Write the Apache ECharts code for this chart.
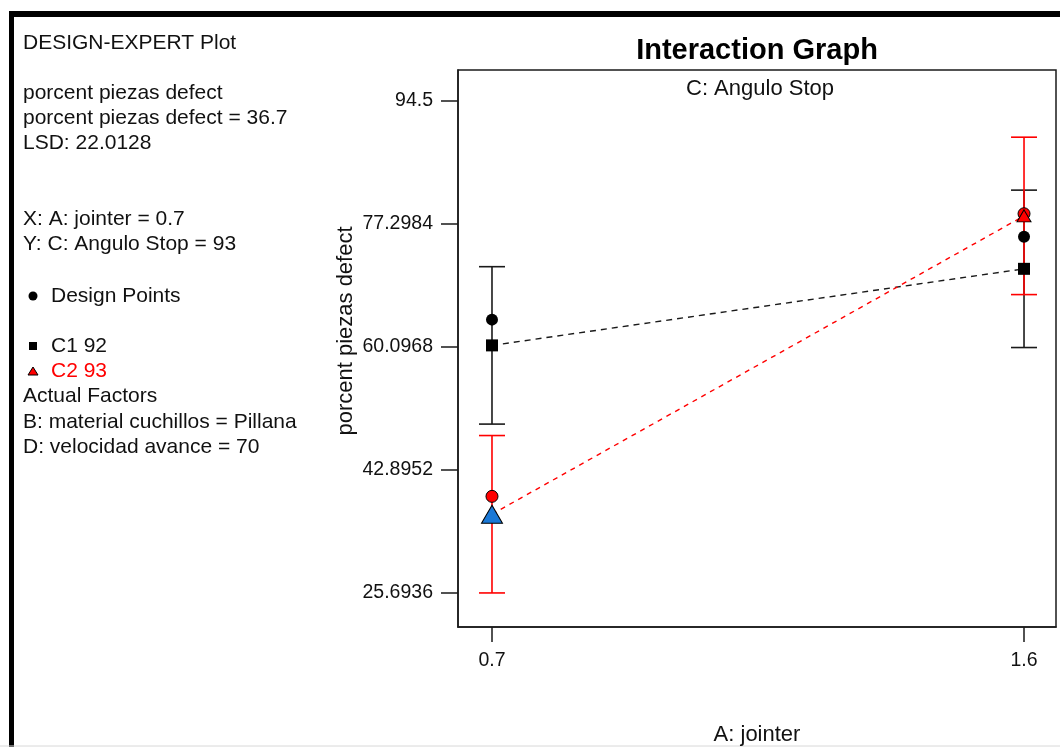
<!DOCTYPE html>
<html>
<head>
<meta charset="utf-8">
<title>Interaction Graph</title>
<script src="https://cdn.jsdelivr.net/npm/echarts@6/dist/echarts.min.js"></script>
<style>
  html, body { margin: 0; padding: 0; background: #ffffff; }
  #chart { width: 1060px; height: 747px; }
</style>
</head>
<body>
<div id="chart"></div>
<script>
// Factor A levels (x axis)
const xLevels = [0.7, 1.6];
const xTickLabels = ['0.7', '1.6'];

// Response axis ticks
const yTicks = [25.6936, 42.8952, 60.0968, 77.2984, 94.5];
const yTickLabels = ['25.6936', '42.8952', '60.0968', '77.2984', '94.5'];

// C1 = 92 : predicted means, LSD bar ends, observed design points
const c1Means = [60.3, 71.0];
const c1Low = [49.3, 60.0];
const c1High = [71.3, 82.0];
const c1Points = [63.9, 75.5];

// C2 = 93 : predicted means, LSD bar ends, observed design points
const c2Means = [36.7, 78.4];
const c2Low = [25.7, 67.4];
const c2High = [47.7, 89.4];
const c2Points = [39.2, 78.7];

// Side panel text
const headerLines = [
  'DESIGN-EXPERT Plot',
  '',
  'porcent piezas defect',
  'porcent piezas defect = 36.7',
  'LSD: 22.0128'
];
const factorLines = ['X: A: jointer = 0.7', 'Y: C: Angulo Stop = 93'];
const actualLines = ['Actual Factors', 'B: material cuchillos = Pillana', 'D: velocidad avance = 70'];
const yAxisTitle = 'porcent piezas defect';

const FONT = '"Liberation Sans", Arial, sans-serif';
const INK = '#111111';
const RED = '#ff0000';

const chart = echarts.init(document.getElementById('chart'), null, { renderer: 'canvas' });

function errorBars(name, lows, highs, color) {
  return {
    type: 'custom',
    name: name,
    data: xLevels.map((x, i) => [x, lows[i], highs[i]]),
    encode: { x: 0, y: [1, 2] },
    renderItem: function (params, api) {
      const x = api.value(0);
      const lo = api.coord([x, api.value(1)]);
      const hi = api.coord([x, api.value(2)]);
      const hw = 13;
      const st = { stroke: color, lineWidth: 1.6 };
      return {
        type: 'group',
        children: [
          { type: 'line', shape: { x1: lo[0], y1: lo[1], x2: hi[0], y2: hi[1] }, style: st },
          { type: 'line', shape: { x1: lo[0] - hw, y1: lo[1], x2: lo[0] + hw, y2: lo[1] }, style: st },
          { type: 'line', shape: { x1: hi[0] - hw, y1: hi[1], x2: hi[0] + hw, y2: hi[1] }, style: st }
        ]
      };
    },
    silent: true
  };
}

function panelText(text, x, y, color) {
  return {
    type: 'text', left: x, top: y - 9,
    style: { text: text, fill: color || INK, font: '21px ' + FONT }
  };
}

const graphics = [
  // frame
  { type: 'rect', shape: { x: 9, y: 11, width: 1051, height: 6 }, style: { fill: '#000' } },
  { type: 'rect', shape: { x: 9, y: 11, width: 5, height: 736 }, style: { fill: '#000' } },
  { type: 'line', shape: { x1: 0, y1: 746, x2: 1060, y2: 746 }, style: { stroke: '#d8d8d8', lineWidth: 1 } },
  // legend markers
  { type: 'circle', shape: { cx: 33, cy: 296, r: 4.5 }, style: { fill: '#000' } },
  { type: 'rect', shape: { x: 29, y: 342, width: 8, height: 8 }, style: { fill: '#000' } },
  { type: 'polygon', shape: { points: [[33, 367], [28, 375], [38, 375]] }, style: { fill: RED, stroke: '#000', lineWidth: 1 } },
  // response axis title, reading upwards
  {
    type: 'text', x: 346, y: 331, rotation: Math.PI / 2,
    style: { text: yAxisTitle, fill: INK, font: '22px ' + FONT, align: 'center', verticalAlign: 'middle' }
  }
];
headerLines.forEach((t, i) => { if (t) graphics.push(panelText(t, 23, 42 + i * 25)); });
factorLines.forEach((t, i) => graphics.push(panelText(t, 23, 218 + i * 25)));
graphics.push(panelText('Design Points', 51, 295));
graphics.push(panelText('C1 92', 51, 345));
graphics.push(panelText('C2 93', 51, 370, RED));
actualLines.forEach((t, i) => graphics.push(panelText(t, 23, 395 + i * 25.5)));

const option = {
  backgroundColor: '#ffffff',
  animation: false,
  title: [
    {
      text: 'Interaction Graph',
      left: 752, top: 31, textAlign: 'center',
      textStyle: { fontFamily: FONT, fontSize: 29, fontWeight: 'bold', color: '#000' }
    },
    {
      text: 'C: Angulo Stop',
      left: 755, top: 73, textAlign: 'center',
      textStyle: { fontFamily: FONT, fontSize: 22, fontWeight: 'normal', color: INK }
    }
  ],
  grid: {
    left: 458, top: 70, right: 4, bottom: 120,
    containLabel: false, outerBoundsMode: 'none',
    show: true, borderColor: '#1a1a1a', borderWidth: 1.5, backgroundColor: 'transparent'
  },
  xAxis: {
    type: 'value',
    min: 0.6425, max: 1.6541,
    name: 'A: jointer',
    nameLocation: 'middle', nameGap: 97,
    nameTextStyle: { fontFamily: FONT, fontSize: 22, color: INK },
    axisLine: { show: true, onZero: false, lineStyle: { color: '#1a1a1a', width: 1.5 } },
    axisTick: { show: true, length: 15, customValues: xLevels, lineStyle: { color: '#1a1a1a', width: 1.5 } },
    axisLabel: {
      customValues: xLevels, margin: 24,
      fontFamily: FONT, fontSize: 19.5, color: INK,
      formatter: v => xTickLabels[xLevels.findIndex(t => Math.abs(t - v) < 1e-6)] || ''
    },
    splitLine: { show: false }
  },
  yAxis: {
    type: 'value',
    min: 20.94, max: 98.79,
    axisLine: { show: true, onZero: false, lineStyle: { color: '#1a1a1a', width: 1.5 } },
    axisTick: { show: true, length: 17, customValues: yTicks, lineStyle: { color: '#1a1a1a', width: 1.5 } },
    axisLabel: {
      customValues: yTicks, margin: 25,
      fontFamily: FONT, fontSize: 19.5, color: INK,
      formatter: v => yTickLabels[yTicks.findIndex(t => Math.abs(t - v) < 1e-6)] || ''
    },
    splitLine: { show: false }
  },
  series: [
    errorBars('C1 LSD', c1Low, c1High, '#1a1a1a'),
    errorBars('C2 LSD', c2Low, c2High, RED),
    {
      name: 'C1 92', type: 'line',
      data: xLevels.map((x, i) => [x, c1Means[i]]),
      symbol: 'rect', symbolSize: 12, showAllSymbol: true,
      itemStyle: { color: '#000', opacity: 1 },
      lineStyle: { color: '#1a1a1a', width: 1.4, type: [6, 5] },
      silent: true
    },
    {
      name: 'C2 93', type: 'line',
      data: xLevels.map((x, i) => ({
        value: [x, c2Means[i]],
        symbolSize: i === 0 ? [21, 18] : [14, 12],
        itemStyle: { color: i === 0 ? '#1a78d6' : RED, borderColor: '#000', borderWidth: 1, opacity: 1 }
      })),
      symbol: 'triangle', showAllSymbol: true,
      lineStyle: { color: RED, width: 1.4, type: [5, 5] },
      silent: true
    },
    {
      name: 'C1 design points', type: 'scatter',
      data: xLevels.map((x, i) => [x, c1Points[i]]),
      symbol: 'circle', symbolSize: 12,
      itemStyle: { color: '#000', opacity: 1 },
      silent: true
    },
    {
      name: 'C2 design points', type: 'scatter',
      data: xLevels.map((x, i) => [x, c2Points[i]]),
      symbol: 'circle', symbolSize: 12,
      itemStyle: { color: RED, borderColor: '#000', borderWidth: 1, opacity: 1 },
      silent: true
    }
  ],
  graphic: graphics
};

chart.setOption(option);
</script>
</body>
</html>
